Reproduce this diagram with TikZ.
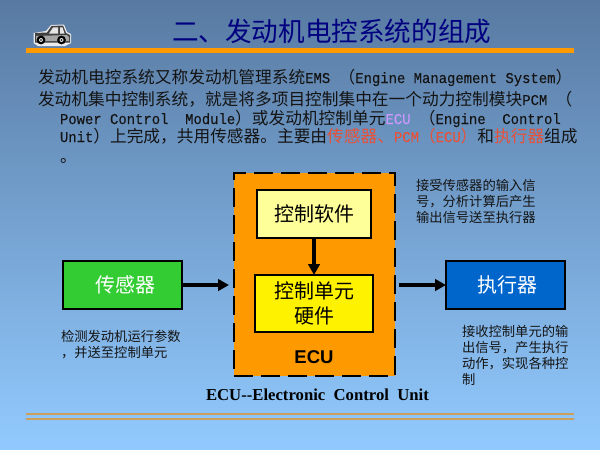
\documentclass[tikz,border=0pt]{standalone}
\usepackage{fontspec}
\setmainfont{Liberation Serif}
\newfontfamily\cjk{Noto Sans CJK SC}
\newfontfamily\lat[FakeStretch=0.927,FakeBold=0.15]{Liberation Mono}
\newfontfamily\arial{Liberation Sans}
\usetikzlibrary{arrows.meta}
\definecolor{bgtop}{RGB}{88,122,162}
\definecolor{bgbot}{RGB}{146,202,255}
\definecolor{rulegold}{RGB}{255,153,0}
\definecolor{rulelow}{RGB}{204,160,92}
\definecolor{navy}{RGB}{0,0,128}
\definecolor{txt}{RGB}{20,20,20}
\definecolor{redtxt}{RGB}{232,80,56}
\definecolor{violet}{RGB}{204,153,255}
\definecolor{softfill}{RGB}{255,255,153}
\definecolor{sensorfill}{RGB}{51,204,51}
\definecolor{actfill}{RGB}{0,102,204}
\newcommand{\Z}[1]{{\fontsize{16.7}{20}\cjk #1}}
\newcommand{\La}[1]{{\fontsize{15}{20}\lat #1}}
\tikzset{
  every node/.style={inner sep=0pt,outer sep=0pt},
  bodyline/.style={anchor=base west,text=txt},
  notetext/.style={anchor=base west,text=txt,font=\fontsize{13.3}{16}\cjk},
  boxed/.style={draw=black,line width=2pt,align=center,font=\fontsize{20}{25}\cjk},
  flow/.style={line width=3.4pt,draw=black,-{Triangle[length=11pt,width=11.5pt]}},
}
\begin{document}
\begin{tikzpicture}[x=1pt,y=-1pt]
\useasboundingbox (0,0) rectangle (600,450);
\shade[top color=bgtop,bottom color=bgbot] (0,0) rectangle (600,450);
% rules
\fill[rulegold] (26,47.5) rectangle (574,53);
\fill[rulelow] (26,412.5) rectangle (574,415);
\fill[rulelow] (26,417.5) rectangle (574,420);
% car
\begin{scope}[line join=round]
\fill[white!85!gray] (33.5,33) -- (46,31) -- (51,25) -- (64,24.5) -- (67,32) -- (71,34) -- (71,43) -- (65,46) -- (38,46) -- (33.5,43) -- cycle;
\fill[black!75] (35,33) -- (47,32.5) -- (51.5,26) -- (63,25.5) -- (66,33) -- (70,35) -- (70,42.5) -- (35,42.5) -- cycle;
\fill[gray!70!white] (36,36) -- (67,35) -- (69,37) -- (69,41) -- (36,41) -- cycle;
\fill[white!80!gray] (49,33.5) -- (53,27.5) -- (58,27.3) -- (58,33.5) -- cycle;
\fill[white!80!gray] (60,27.3) -- (62.5,27.3) -- (64.5,33.5) -- (60,33.5) -- cycle;
\foreach \cx in {41,61.5}{
  \fill[black] (\cx,40) circle (4.4);
  \fill[white!75!gray] (\cx,40) circle (2);
  \fill[black] (\cx,40) circle (0.8);
}
\end{scope}
% title
\node[anchor=base west,text=navy,font=\fontsize{26.6}{30}\cjk] (title) at (172,41) {二、发动机电控系统的组成};
% body
\node[bodyline] (l1) at (38,83) {\Z{发动机电控系统又称发动机管理系统}\La{EMS\ }\Z{（}\La{Engine Management System}\Z{）}};
\node[bodyline] (l2) at (38,105) {\Z{发动机集中控制系统，就是将多项目控制集中在一个动力控制模块}\La{PCM\ }\Z{（}};
\node[bodyline] (l3) at (60,124) {\La{Power Control\ \ Module}\Z{）或发动机控制单元}\textcolor{violet}{\La{ECU}}\La{\ }\Z{（}\La{Engine\ \ Control}};
\node[bodyline] (l4) at (60,142) {\La{Unit}\Z{）上完成，共用传感器。主要由}\textcolor{redtxt}{\Z{传感器、}\La{PCM}\Z{（}\La{ECU}\Z{）}}\Z{和}\textcolor{redtxt}{\Z{执行器}}\Z{组成}};
\node[bodyline] (l5) at (60,162) {\Z{。}};
% ECU
\node[draw=black,line width=2.4pt,dash pattern=on 19pt off 8pt,fill=rulegold,minimum width=161pt,minimum height=203pt] (ecu) at (314.5,274.5) {};
\node[boxed,fill=softfill,minimum width=114pt,minimum height=48pt] (soft) at (314,214) {控制软件};
\node[boxed,fill=yellow,minimum width=118pt,minimum height=57pt] (hard) at (314,303.5) {控制单元\\硬件};
\node[font=\fontsize{18.5}{20}\arial\bfseries,text=black] (ecul) at (314,357) {ECU};
\node[boxed,fill=sensorfill,text=white,minimum width=119pt,minimum height=48pt] (sensor) at (122.5,285) {\hspace{6pt}传感器};
\node[boxed,fill=actfill,text=white,minimum width=119pt,minimum height=48pt] (act) at (505.5,285) {\hspace{4pt}执行器};
\draw[flow] (soft) -- (hard);
\draw[flow,shorten >=5pt] (sensor.east) -- (sensor.east -| ecu.west);
\draw[flow,shorten <=4pt] (act.west -| ecu.east) -- (act.west);
% notes
\node[notetext] (n1a) at (61,341) {检测发动机运行参数};
\node[notetext] (n1b) at (61,357) {，并送至控制单元};
\node[notetext] (n2a) at (416,190) {接受传感器的输入信};
\node[notetext] (n2b) at (416,206) {号，分析计算后产生};
\node[notetext] (n2c) at (416,222) {输出信号送至执行器};
\node[notetext] (n3a) at (462,336) {接收控制单元的输};
\node[notetext] (n3b) at (462,352) {出信号，产生执行};
\node[notetext] (n3c) at (462,368) {动作，实现各种控};
\node[notetext] (n3d) at (462,384) {制};
\node[anchor=base west,font=\fontsize{16.7}{18}\rmfamily\bfseries,text=black] (cap) at (206,400) {ECU-{}-Electronic\ \ Control\ \ Unit};
\end{tikzpicture}
\end{document}
